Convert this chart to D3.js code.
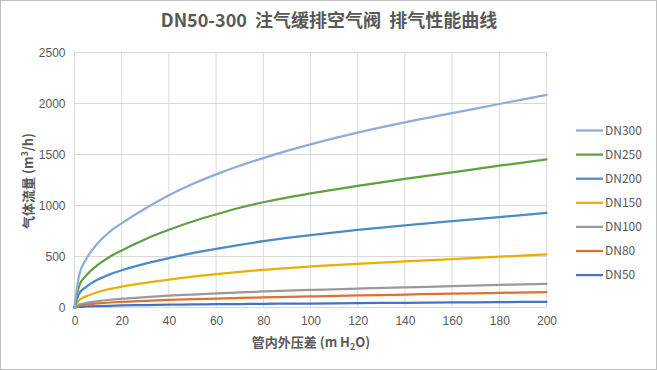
<!DOCTYPE html>
<html>
<head>
<meta charset="utf-8">
<script src="https://cdn.jsdelivr.net/npm/d3@7"></script>
<style>
  html, body { margin: 0; padding: 0; background: #fff; }
  svg { display: block; font-family: "Noto Sans CJK SC", "Noto Sans", sans-serif; }
</style>
</head>
<body>
<svg id="chart" width="657" height="370"></svg>
<script>
const pressure = [0, 2, 5, 10, 15, 20, 30, 40, 50, 60, 70, 80, 90, 100, 120, 140, 160, 180, 200];
const seriesNames = ["DN300", "DN250", "DN200", "DN150", "DN100", "DN80", "DN50"];
const dn300 = [0, 320, 475, 635, 745, 825, 970, 1100, 1210, 1305, 1390, 1465, 1535, 1600, 1715, 1815, 1905, 1995, 2085];
const dn250 = [0, 215, 315, 420, 498, 560, 670, 762, 843, 913, 978, 1032, 1078, 1118, 1193, 1260, 1325, 1390, 1452];
const dn200 = [0, 138, 203, 275, 325, 365, 430, 485, 533, 575, 613, 650, 682, 710, 760, 805, 847, 887, 928];
const dn150 = [0, 72, 110, 152, 182, 205, 242, 274, 303, 328, 350, 370, 387, 402, 428, 452, 475, 498, 522];
const dn100 = [0, 28, 45, 63, 76, 86, 102, 116, 127, 138, 148, 157, 165, 172, 185, 197, 209, 221, 232];
const dn80  = [0, 18, 28, 40, 49, 56, 66, 75, 82, 88, 94, 99, 104, 109, 118, 127, 135, 143, 150];
const dn50  = [0, 6, 10, 14, 17, 20, 24, 27, 30, 32, 34, 36, 38, 39, 43, 46, 50, 53, 56];
const xTicks = [0, 20, 40, 60, 80, 100, 120, 140, 160, 180, 200];
const yTicks = [0, 500, 1000, 1500, 2000, 2500];
const colors = ["#8FAADC", "#5FA03F", "#4A8CC8", "#E8B000", "#9A9A9A", "#E07030", "#4472C4"];

const seriesValues = [dn300, dn250, dn200, dn150, dn100, dn80, dn50];
const series = seriesNames.map((name, i) => ({
  name, color: colors[i],
  points: pressure.map((p, j) => ({ x: p, y: seriesValues[i][j] }))
}));

const svg = d3.select("#chart");
const textColor = "#595959";

// chart border
svg.append("rect").attr("x", 0.5).attr("y", 0.5).attr("width", 656).attr("height", 369)
  .attr("fill", "#fff").attr("stroke", "#BFBFBF").attr("stroke-width", 1);

const x = d3.scaleLinear().domain([0, 200]).range([74.5, 546.5]);
const y = d3.scaleLinear().domain([0, 2500]).range([307.5, 52.5]);

// gridlines
const grid = svg.append("g");
grid.selectAll("line.h").data(yTicks).join("line")
  .attr("x1", x(0)).attr("x2", x(200))
  .attr("y1", d => y(d)).attr("y2", d => y(d))
  .attr("stroke", "#D9D9D9").attr("stroke-width", 1);
grid.selectAll("line.v").data(xTicks).join("line")
  .attr("y1", y(0)).attr("y2", y(2500))
  .attr("x1", d => x(d)).attr("x2", d => x(d))
  .attr("stroke", "#D9D9D9").attr("stroke-width", 1);

// axes (labels only)
const xAxis = d3.axisBottom(x).tickValues(xTicks).tickFormat(d3.format("d")).tickSize(0).tickPadding(9);
const gx = svg.append("g").attr("transform", `translate(0,${y(0)})`).call(xAxis);
gx.select(".domain").remove();
gx.selectAll("text").attr("fill", textColor).style("font-size", "12px");

const yAxis = d3.axisLeft(y).tickValues(yTicks).tickFormat(d3.format("d")).tickSize(0).tickPadding(9);
const gy = svg.append("g").attr("transform", `translate(${x(0)},0)`).call(yAxis);
gy.select(".domain").remove();
gy.selectAll("text").attr("fill", textColor).style("font-size", "12px");

// lines
const line = d3.line().x(d => x(d.x)).y(d => y(d.y)).curve(d3.curveMonotoneX);
svg.append("g").selectAll("path").data(series.slice().reverse()).join("path")
  .attr("d", d => line(d.points))
  .attr("fill", "none").attr("stroke", d => d.color)
  .attr("stroke-width", 2.25).attr("stroke-linejoin", "round").attr("stroke-linecap", "round");

// title
svg.append("text").attr("x", 329).attr("y", 27).attr("text-anchor", "middle")
  .attr("fill", textColor).style("font-size", "18px").style("font-weight", "bold")
  .attr("xml:space", "preserve")
  .text("DN50-300  注气缓排空气阀  排气性能曲线");

// axis titles
const xt = svg.append("text").attr("x", 311).attr("y", 347).attr("text-anchor", "middle")
  .attr("fill", textColor).style("font-size", "13px").style("font-weight", "bold");
xt.append("tspan").text("管内外压差 (m H");
xt.append("tspan").attr("dy", 3).style("font-size", "9px").text("2");
xt.append("tspan").attr("dy", -3).text("O)");

const yt = svg.append("text").attr("transform", `translate(33,181) rotate(-90)`).attr("text-anchor", "middle")
  .attr("fill", textColor).style("font-size", "13px").style("font-weight", "bold");
yt.append("tspan").text("气体流量 (m");
yt.append("tspan").attr("dy", -5).style("font-size", "9px").text("3");
yt.append("tspan").attr("dy", 5).text("/h)");

// legend
const legend = svg.append("g");
const lg = legend.selectAll("g").data(series).join("g")
  .attr("transform", (d, i) => `translate(576,${130.5 + i * 24.1})`);
lg.append("line").attr("x1", 0).attr("x2", 27).attr("y1", 0).attr("y2", 0)
  .attr("stroke", d => d.color).attr("stroke-width", 2.25);
lg.append("text").attr("x", 29).attr("y", 0).attr("dy", "0.35em")
  .attr("fill", textColor).style("font-size", "12px").text(d => d.name);
</script>
</body>
</html>
